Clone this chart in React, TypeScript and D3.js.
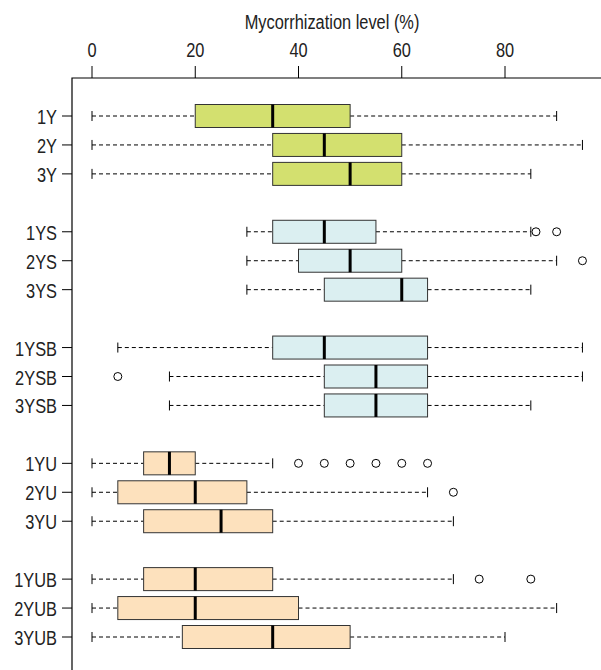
import React from "react";
import * as d3 from "d3";

const categories = ["1Y","2Y","3Y","1YS","2YS","3YS","1YSB","2YSB","3YSB","1YU","2YU","3YU","1YUB","2YUB","3YUB"];
const rowIndex = [1,2,3,5,6,7,9,10,11,13,14,15,17,18,19];
const groups = ["Y","Y","Y","S","S","S","S","S","S","U","U","U","U","U","U"];
const lowWhisker = [0,0,0,30,30,30,5,15,15,0,0,0,0,0,0];
const q1 = [20,35,35,35,40,45,35,45,45,10,5,10,10,5,17.5];
const median = [35,45,50,45,50,60,45,55,55,15,20,25,20,20,35];
const q3 = [50,60,60,55,60,65,65,65,65,20,30,35,35,40,50];
const highWhisker = [90,95,85,85,90,85,95,95,85,35,65,70,70,90,80];
const outliers: number[][] = [[],[],[],[86,90],[95],[],[],[5],[],[40,45,50,55,60,65],[70],[],[75,85],[],[]];
const xTicks = [0,20,40,60,80];
const colors: Record<string,string> = { Y: "#d3e06f", S: "#dbeff1", U: "#fde1bd" };

function T({ x, y, anchor, children }: { x: number; y: number; anchor: string; children: React.ReactNode }) {
  return (
    <text transform={`translate(${x},${y}) scale(0.78,1)`} textAnchor={anchor} fontSize={21} fill="#222">
      {children}
    </text>
  );
}

export default function App() {
  const x = d3.scaleLinear().domain([0, 80]).range([92, 505]);
  const y = d3.scaleLinear().domain([1, 19]).range([116, 637]);
  const font = "'Liberation Sans', Arial, sans-serif";
  const bh = 23;
  return (
    <svg width={601} height={670} style={{ position: "absolute", left: 0, top: 0 }} fontFamily={font}>
      <rect width={601} height={670} fill="#fff" />
      <T x={332} y={29} anchor="middle">Mycorrhization level (%)</T>
      {xTicks.map(t => (
        <g key={t}>
          <T x={x(t)} y={57} anchor="middle">{t}</T>
          <line x1={x(t)} x2={x(t)} y1={66} y2={78} stroke="#000" />
        </g>
      ))}
      <path d="M72,670 V78 H601" fill="none" stroke="#000" strokeWidth={1.2} />
      {categories.map((c, i) => {
        const cy = y(rowIndex[i]);
        return (
          <g key={c}>
            <line x1={62} x2={72} y1={cy} y2={cy} stroke="#000" />
            <T x={57} y={cy + 8} anchor="end">{c}</T>
            <line x1={x(lowWhisker[i])} x2={x(q1[i])} y1={cy} y2={cy} stroke="#000" strokeDasharray="4,3" />
            <line x1={x(q3[i])} x2={x(highWhisker[i])} y1={cy} y2={cy} stroke="#000" strokeDasharray="4,3" />
            <line x1={x(lowWhisker[i])} x2={x(lowWhisker[i])} y1={cy - 5} y2={cy + 5} stroke="#000" />
            <line x1={x(highWhisker[i])} x2={x(highWhisker[i])} y1={cy - 5} y2={cy + 5} stroke="#000" />
            <rect x={x(q1[i])} y={cy - bh / 2} width={x(q3[i]) - x(q1[i])} height={bh} fill={colors[groups[i]]} stroke="#333" strokeWidth={1} />
            <line x1={x(median[i])} x2={x(median[i])} y1={cy - bh / 2} y2={cy + bh / 2} stroke="#000" strokeWidth={3} />
            {outliers[i].map((o, k) => (
              <circle key={k} cx={x(o)} cy={cy} r={4} fill="none" stroke="#000" strokeWidth={1} />
            ))}
          </g>
        );
      })}
    </svg>
  );
}
